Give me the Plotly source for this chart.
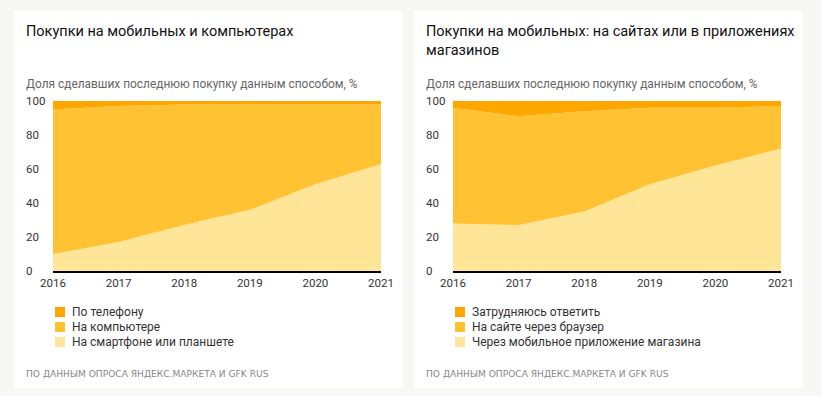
import plotly.graph_objects as go

years = [2016, 2017, 2018, 2019, 2020, 2021]

# Left chart: devices
left_title = "Покупки на мобильных и компьютерах"
left_names = ["По телефону", "На компьютере", "На смартфоне или планшете"]
left_phone = [5, 3, 2, 2, 2, 2]
left_computer = [85, 80, 71, 62, 47, 35]
left_smartphone = [10, 17, 27, 36, 51, 63]

# Right chart: mobile site vs app
right_title = "Покупки на мобильных: на сайтах или в приложениях<br>магазинов"
right_names = ["Затрудняюсь ответить", "На сайте через браузер", "Через мобильное приложение магазина"]
right_hard = [4, 9, 6, 4, 4, 3]
right_browser = [68, 64, 59, 45, 34, 25]
right_app = [28, 27, 35, 51, 62, 72]

subtitle = "Доля сделавших последнюю покупку данным способом, %"
source = "ПО ДАННЫМ ОПРОСА ЯНДЕКС.МАРКЕТА И GFK RUS"
y_ticks = [0, 20, 40, 60, 80, 100]

C_TOP = "#FFA600"
C_MID = "#FFC233"
C_LOW = "#FFE597"
colors = [C_TOP, C_MID, C_LOW]
BG = "#F7F7F6"

# page is 821x396 with an 8px body margin -> figure 805x380 at (8, 8)
OFF = 8
W, H = 805, 380
FONT = "Roboto"

def px(x):
    return (x - OFF) / W

def py(y):
    return (H - (y - OFF)) / H

fig = go.Figure()

def add_panel(xa, ya, series, names):
    # series given top -> bottom; stack bottom first
    for vals, name, col in list(zip(series, names, colors))[::-1]:
        fig.add_trace(go.Scatter(
            x=years, y=vals, name=name, mode="lines",
            line=dict(width=0, color=col), fillcolor=col,
            stackgroup="s" + xa, xaxis=xa, yaxis=ya,
            showlegend=False, hoverinfo="x+y+name"))

add_panel("x", "y", [left_phone, left_computer, left_smartphone], left_names)
add_panel("x2", "y2", [right_hard, right_browser, right_app], right_names)

ydom = [py(271), py(101)]
axis_x = dict(range=[2016, 2021], tickvals=years, showgrid=False, zeroline=False,
              showline=True, linecolor="#000", linewidth=1.6, ticks="",
              automargin=False,
              tickfont=dict(family=FONT, size=11.5, color="#333"), fixedrange=True)
axis_y = dict(range=[0, 100], showgrid=False, zeroline=False, showticklabels=False,
              showline=False, ticks="", automargin=False, fixedrange=True)

fig.update_layout(
    width=W, height=H,
    margin=dict(l=0, r=0, t=0, b=0, autoexpand=False),
    paper_bgcolor=BG, plot_bgcolor="rgba(0,0,0,0)",
    font=dict(family=FONT, color="#333"),
    xaxis=dict(domain=[px(53), px(381)], anchor="y", **axis_x),
    yaxis=dict(domain=ydom, anchor="x", **axis_y),
    xaxis2=dict(domain=[px(453), px(781)], anchor="y2", **axis_x),
    yaxis2=dict(domain=ydom, anchor="x2", **axis_y),
    showlegend=False,
)

shapes = []
# cards
for x0, x1 in [(14, 403), (414, 803)]:
    shapes.append(dict(type="rect", xref="paper", yref="paper",
                       x0=px(x0), x1=px(x1), y0=py(391), y1=py(11),
                       fillcolor="#FFFFFF", line=dict(width=0), layer="below"))

ann = []
for xl, title in [(24, left_title), (424, right_title)]:
    ann.append(dict(x=px(xl), y=py(21), xref="paper", yref="paper", text=title,
                    showarrow=False, xanchor="left", yanchor="top", align="left",
                    font=dict(family=FONT, size=14.5, color="#111")))
    ann.append(dict(x=px(xl), y=py(84), xref="paper", yref="paper", text=subtitle,
                    showarrow=False, xanchor="left", yanchor="middle",
                    font=dict(family=FONT, size=11.9, color="#666")))
    ann.append(dict(x=px(xl), y=py(374), xref="paper", yref="paper", text=source,
                    showarrow=False, xanchor="left", yanchor="middle",
                    font=dict(family="DejaVu Sans", size=9.1, color="#888")))
for xl, yr in [(24, "y"), (424, "y2")]:
    for t in y_ticks:
        ann.append(dict(x=px(xl), y=t, xref="paper", yref=yr, text=str(t),
                        showarrow=False, xanchor="left", yanchor="middle",
                        font=dict(family=FONT, size=11.5, color="#333")))

# legends (top entry = top of stack)
for xs, names in [(55, left_names), (455, right_names)]:
    for i, (name, col) in enumerate(zip(names, colors)):
        yc = 312 + 15 * i
        shapes.append(dict(type="rect", xref="paper", yref="paper",
                           x0=px(xs), x1=px(xs + 10), y0=py(yc + 5), y1=py(yc - 5),
                           fillcolor=col, line=dict(width=0)))
        ann.append(dict(x=px(xs + 15), y=py(yc), xref="paper", yref="paper", text=name,
                        showarrow=False, xanchor="left", yanchor="middle",
                        font=dict(family=FONT, size=12, color="#333")))

fig.update_layout(annotations=ann, shapes=shapes)

fig.write_html("out.html",
               post_script="document.body.style.background='%s';" % BG)
